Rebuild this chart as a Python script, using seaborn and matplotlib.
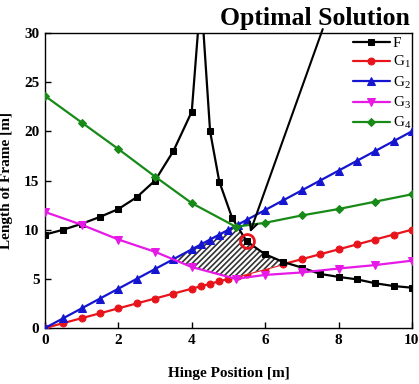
import numpy as np
import pandas as pd
import matplotlib
matplotlib.use("Agg")
import matplotlib.pyplot as plt
import seaborn as sns

# ---- data ---------------------------------------------------------------
F_x = [0, 0.5, 1, 1.5, 2, 2.5, 3, 3.5, 4, 4.25, 4.5, 4.75, 5.1, 5.5, 6, 6.5,
       7, 7.5, 8, 8.5, 9, 9.5, 10]
F_y = [9.5, 10.0, 10.6, 11.3, 12.1, 13.3, 15.0, 18.0, 22.0, 34.0, 20.0, 14.9,
       11.2, 8.8, 7.5, 6.7, 6.15, 5.5, 5.2, 4.95, 4.55, 4.27, 4.1]

G12_x = [0, 0.5, 1, 1.5, 2, 2.5, 3, 3.5, 4, 4.25, 4.5, 4.75, 5, 5.25, 5.5,
         6, 6.5, 7, 7.5, 8, 8.5, 9, 9.5, 10]
G1_y = [0, 0.5, 1, 1.5, 2, 2.5, 3, 3.5, 4, 4.25, 4.5, 4.75, 5, 5.25, 5.5,
        6, 6.5, 7, 7.5, 8, 8.5, 9, 9.5, 10]
G2_y = [0, 1, 2, 3, 4, 5, 6, 7, 8, 8.5, 9, 9.5, 10, 10.5, 11,
        12, 13, 14, 15, 16, 17, 18, 19, 20]

G34_x = [0, 1, 2, 3, 4, 5.2, 6, 7, 8, 9, 10]
G3_y = [11.8, 10.5, 9.0, 7.75, 6.2, 5.0, 5.4, 5.65, 6.05, 6.4, 6.85]
G4_y = [23.6, 20.9, 18.2, 15.4, 12.7, 10.3, 10.7, 11.45, 12.1, 12.85, 13.6]

opt_x, opt_y = 5.5, 8.8

series_names = ["F", "G$_1$", "G$_2$", "G$_3$", "G$_4$"]
colors = ["#000000", "#e8141c", "#1515d0", "#e619e6", "#178a17"]
markers = ["s", "o", "^", "v", "D"]
msizes = [4.5, 5, 5.5, 5.5, 4.2]

# ---- style ---------------------------------------------------------------
sns.set_theme(style="ticks")
plt.rcParams["font.family"] = ["Liberation Serif", "DejaVu Serif"]
plt.rcParams["mathtext.fontset"] = "custom"
plt.rcParams["mathtext.rm"] = "Liberation Serif"
plt.rcParams["mathtext.it"] = "Liberation Serif:italic"
plt.rcParams["mathtext.default"] = "regular"
plt.rcParams["hatch.linewidth"] = 1.2
for key in ["text.color", "axes.labelcolor", "xtick.color", "ytick.color",
            "axes.edgecolor"]:
    plt.rcParams[key] = "black"

df = pd.concat([
    pd.DataFrame({"x": F_x, "y": F_y, "s": series_names[0]}),
    pd.DataFrame({"x": G12_x, "y": G1_y, "s": series_names[1]}),
    pd.DataFrame({"x": G12_x, "y": G2_y, "s": series_names[2]}),
    pd.DataFrame({"x": G34_x, "y": G3_y, "s": series_names[3]}),
    pd.DataFrame({"x": G34_x, "y": G4_y, "s": series_names[4]}),
], ignore_index=True)

fig = plt.figure(figsize=(4.19, 3.84), dpi=100)
ax = fig.add_axes([0.1074, 0.1458, 0.8756, 0.7682])

for name, c, m, ms in zip(series_names, colors, markers, msizes):
    sub = df[df["s"] == name]
    sns.lineplot(data=sub, x="x", y="y", ax=ax, color=c, marker=m,
                 markersize=ms, markeredgecolor=c, linewidth=1.6,
                 label=name, sort=False, estimator=None, zorder=3)

# feasible region: above max(G1, G3), below min(G2, G4, F)
xs = np.linspace(0, 10, 2001)
lower = np.maximum(np.interp(xs, G12_x, G1_y), np.interp(xs, G34_x, G3_y))
upper = np.minimum.reduce([np.interp(xs, G12_x, G2_y),
                           np.interp(xs, G34_x, G4_y),
                           np.interp(xs, F_x, F_y)])
ax.fill_between(xs, lower, upper, where=upper > lower, interpolate=True,
                facecolor="white", edgecolor="#333333", hatch="//////",
                linewidth=0, zorder=3.5)

# bounding curves stay above the hatched patch (G1 runs underneath)
for line in ax.get_lines():
    if line.get_label() != series_names[1]:
        line.set_zorder(4)

ax.plot([opt_x], [opt_y], "o", mfc="none", mec="#e8141c", ms=10, mew=2,
        zorder=6)

ax.annotate("", xy=(opt_x, opt_y), xytext=(7.57, 30.4),
            arrowprops=dict(arrowstyle="->", lw=1.5, color="black",
                            shrinkA=0, shrinkB=7, mutation_scale=14),
            annotation_clip=False, zorder=7)
ax.text(7.35, 31.45, "Optimal Solution", fontsize=18.5, fontweight="bold",
        ha="center", va="center", clip_on=False)

ax.set_xlim(0, 10)
ax.set_ylim(0, 30)
ax.set_xticks([0, 2, 4, 6, 8, 10])
ax.set_yticks([0, 5, 10, 15, 20, 25, 30])
ax.tick_params(direction="in", length=4, width=1, labelsize=11, pad=4,
               colors="black")
for lab in ax.get_xticklabels() + ax.get_yticklabels():
    lab.set_fontweight("bold")
for sp in ax.spines.values():
    sp.set_visible(True)
    sp.set_linewidth(1.0)
    sp.set_color("black")

ax.set_xlabel("Hinge Position [m]", fontsize=11, fontweight="bold",
              labelpad=15)
ax.set_ylabel("Length of Frame [m]", fontsize=11, fontweight="bold",
              labelpad=8)

handles, labels = ax.get_legend_handles_labels()
leg = ax.legend(handles[:5], labels[:5], loc="upper right", frameon=False,
                fontsize=11, handlelength=2.4, handletextpad=0.2,
                labelspacing=0.28, borderaxespad=0.0,
                bbox_to_anchor=(1.015, 1.01))

fig.savefig("out.png", dpi=100)
